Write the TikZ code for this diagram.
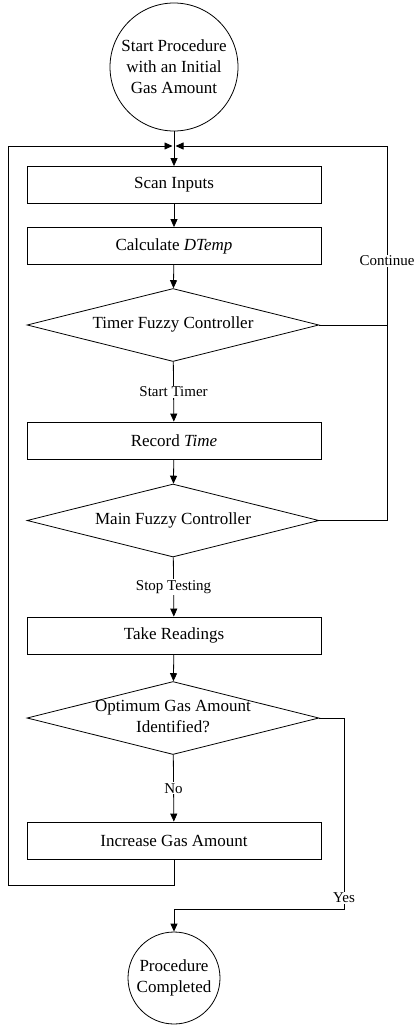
\documentclass[tikz,border=0pt]{standalone}
\usepackage{fontspec}
\setmainfont{Liberation Serif}
\usetikzlibrary{positioning,shapes.geometric,arrows.meta}
\newcommand{\flatbox}[1]{\raisebox{-4pt}[0pt][0pt]{\makebox[0pt]{\begin{tabular}{@{}c@{}}#1\end{tabular}}}}
\begin{document}
\begin{tikzpicture}[x=1pt,y=-1pt,line width=0.8pt,
    font=\fontsize{17}{21}\selectfont,
    procbox/.style={draw,rectangle,minimum width=294pt,minimum height=37pt,inner sep=0pt},
    decision/.style={draw,diamond,minimum width=292pt,minimum height=73pt,inner sep=0pt},
    terminal/.style={draw,circle,inner sep=0pt,align=center},
    flowarrow/.style={-{Triangle[length=8pt,width=7pt]}},
    edgelabel/.style={fill=white,inner sep=1pt,font=\fontsize{15}{18}\selectfont}]
  \useasboundingbox (0,0) rectangle (416,1025);
  \node[terminal,minimum size=128pt](start) at (174,67){Start Procedure\\with an Initial\\Gas Amount};
  \node[procbox](scan) at (174,185){Scan Inputs};
  \node[procbox](calc) at (174,246){Calculate \textit{DTemp}};
  \node[decision](timer) at (173,325){\flatbox{Timer Fuzzy Controller}};
  \node[procbox](record) at (174,440.5){Record \textit{Time}};
  \node[decision](main) at (173,520.5){\flatbox{Main Fuzzy Controller}};
  \node[procbox](take) at (174,635.5){Take Readings};
  \node[decision](optimum) at (173,718){\flatbox{Optimum Gas Amount\\Identified?}};
  \node[procbox](increase) at (174,840.5){Increase Gas Amount};
  \node[terminal,minimum size=92pt](finish) at (174,978){Procedure\\Completed};
  % loop corners
  \coordinate (join) at (174,146);
  \coordinate (rtop) at (387,146);
  \coordinate (lbot) at (8,885);
  \coordinate (yturn) at (344,909);
  % main line
  \draw[flowarrow] (start) -- (scan);
  \draw[flowarrow] (scan) -- (calc);
  \draw[flowarrow] (calc) -- (timer);
  \draw[flowarrow] (timer) -- node[edgelabel]{Start Timer} (record);
  \draw[flowarrow] (record) -- (main);
  \draw[flowarrow] (main) -- node[edgelabel]{Stop Testing} (take);
  \draw[flowarrow] (take) -- (optimum);
  \draw[flowarrow] (optimum) -- node[edgelabel]{No} (increase);
  % feedback
  \draw[flowarrow,shorten >=1.5pt] (timer.east) -| node[edgelabel,pos=0.68]{Continue} (rtop) -- (join);
  \draw (main.east) -| (timer.east -| rtop);
  \draw[flowarrow,shorten >=1.5pt] (increase) |- (lbot) |- (join);
  \draw[flowarrow] (optimum.east) -| node[edgelabel,pos=0.97]{Yes} (yturn) -- (yturn -| finish.north) -- (finish);
\end{tikzpicture}
\end{document}
